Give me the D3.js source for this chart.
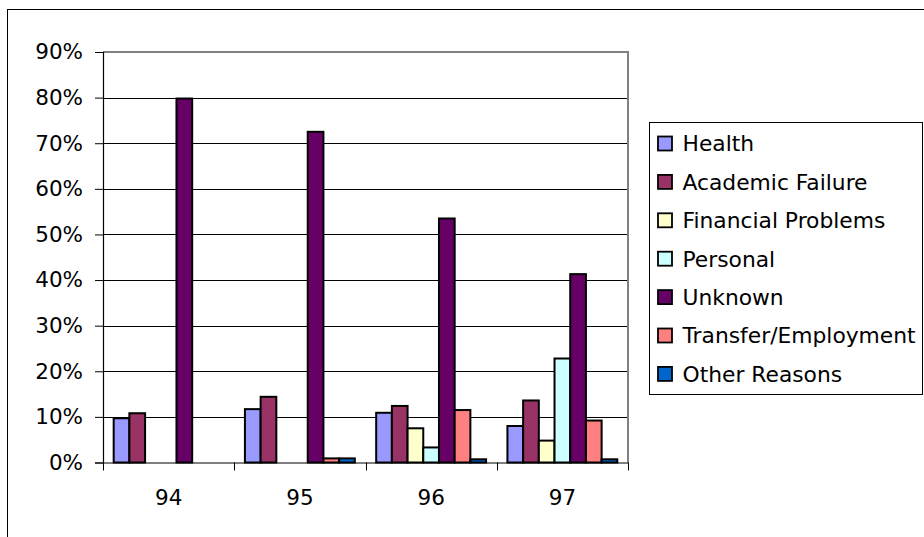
<!DOCTYPE html>
<html>
<head>
<meta charset="utf-8">
<script src="https://cdn.jsdelivr.net/npm/d3@7"></script>
<style>
  html, body { margin: 0; padding: 0; background: #fff; }
  svg { display: block; font-family: "DejaVu Sans", Verdana, sans-serif; }
</style>
</head>
<body>
<svg id="chart" width="924" height="537"></svg>
<script>
// Withdrawal reasons by year (share of students)
const years = ["94", "95", "96", "97"];
const seriesNames = ["Health", "Academic Failure", "Financial Problems", "Personal",
                     "Unknown", "Transfer/Employment", "Other Reasons"];
const health    = [0.097, 0.117, 0.109, 0.080];
const academic  = [0.108, 0.144, 0.124, 0.136];
const financial = [0.000, 0.000, 0.075, 0.048];
const personal  = [0.000, 0.000, 0.033, 0.228];
const unknown   = [0.798, 0.725, 0.535, 0.413];
const transfer  = [0.000, 0.009, 0.115, 0.092];
const other     = [0.000, 0.009, 0.007, 0.007];
const yTicks    = [0, 0.1, 0.2, 0.3, 0.4, 0.5, 0.6, 0.7, 0.8, 0.9];
const colors    = ["#9999FF", "#993366", "#FFFFCC", "#CCFFFF", "#660066", "#FF8080", "#0066CC"];

const seriesValues = [health, academic, financial, personal, unknown, transfer, other];

const svg = d3.select("#chart");

// outer chart frame
svg.append("rect")
  .attr("x", 7.5).attr("y", 9.5)
  .attr("width", 940).attr("height", 560)
  .attr("fill", "none").attr("stroke", "#000").attr("stroke-width", 1);

const plot = { left: 103, right: 628, top: 52, bottom: 462.5 };

const x0 = d3.scaleBand().domain(years).range([plot.left, plot.right]).padding(0);
const x1 = d3.scaleBand().domain(seriesNames).range([0, x0.bandwidth()])
  .paddingInner(0).paddingOuter(0.68);
const y = d3.scaleLinear().domain([0, 0.9]).range([plot.bottom, plot.top]);

// gridlines
svg.append("g")
  .selectAll("line")
  .data(yTicks.filter(t => t > 0 && t < 0.9))
  .join("line")
  .attr("x1", plot.left).attr("x2", plot.right)
  .attr("y1", d => Math.round(y(d)) + 0.5).attr("y2", d => Math.round(y(d)) + 0.5)
  .attr("stroke", "#000").attr("stroke-width", 1);

// plot area frame (top and right edges)
svg.append("path")
  .attr("d", `M${plot.left},${plot.top} H${plot.right} V${plot.bottom}`)
  .attr("fill", "none").attr("stroke", "#808080").attr("stroke-width", 2);

// bars
const groups = svg.append("g").selectAll("g")
  .data(years)
  .join("g")
  .attr("transform", d => `translate(${x0(d)},0)`);

groups.selectAll("rect")
  .data((yr, i) => seriesNames.map((name, s) => ({ name, s, v: seriesValues[s][i] }))
                               .filter(d => d.v > 0))
  .join("rect")
  .attr("x", d => x1(d.name))
  .attr("width", x1.bandwidth())
  .attr("y", d => y(d.v))
  .attr("height", d => y(0) - y(d.v))
  .attr("fill", d => colors[d.s])
  .attr("stroke", "#000").attr("stroke-width", 2);

// y axis
const yAxis = d3.axisLeft(y)
  .tickValues(yTicks)
  .tickFormat(d3.format(".0%"))
  .tickSize(8).tickPadding(12);
const gy = svg.append("g").attr("transform", `translate(${plot.left},0)`).call(yAxis);
gy.select(".domain").attr("stroke", "#000").attr("stroke-width", 1.2);
gy.selectAll(".tick line").attr("stroke", "#000");
gy.selectAll(".tick text").attr("font-size", 21.5).attr("fill", "#000")
  .attr("font-family", "DejaVu Sans");

// x axis
const xAxis = d3.axisBottom(x0).tickSize(0).tickPadding(27);
const gx = svg.append("g").attr("transform", `translate(0,${plot.bottom})`).call(xAxis);
gx.select(".domain").attr("stroke", "#000").attr("stroke-width", 1.2);
gx.selectAll(".tick text").attr("font-size", 21.5).attr("fill", "#000")
  .attr("font-family", "DejaVu Sans");
// category separator ticks
gx.append("g").selectAll("line")
  .data(years.map(d => x0(d)).concat([plot.right]))
  .join("line")
  .attr("x1", d => Math.round(d) + 0.5).attr("x2", d => Math.round(d) + 0.5)
  .attr("y1", 0).attr("y2", 8)
  .attr("stroke", "#000");

// legend
const legend = svg.append("g").attr("transform", "translate(649.5,122.5)");
legend.append("rect")
  .attr("width", 273).attr("height", 272)
  .attr("fill", "#fff").attr("stroke", "#000").attr("stroke-width", 1);

const items = legend.selectAll("g.item")
  .data(seriesNames)
  .join("g")
  .attr("class", "item")
  .attr("transform", (d, i) => `translate(0,${21 + i * 38.4})`);

items.append("rect")
  .attr("x", 8.5).attr("y", -7)
  .attr("width", 14).attr("height", 14)
  .attr("fill", (d, i) => colors[i])
  .attr("stroke", "#000").attr("stroke-width", 1.8);

items.append("text")
  .attr("x", 33).attr("y", 0)
  .attr("dy", "0.36em")
  .attr("font-size", 21.8)
  .attr("fill", "#000")
  .text(d => d);
</script>
</body>
</html>
